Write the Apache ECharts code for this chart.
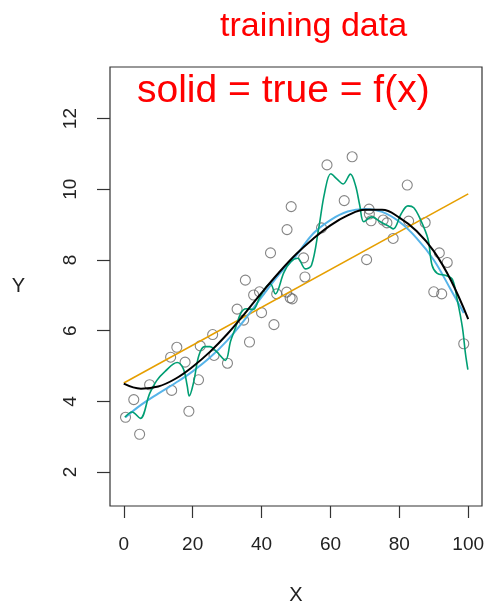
<!DOCTYPE html>
<html>
<head>
<meta charset="utf-8">
<script src="https://cdn.jsdelivr.net/npm/echarts@6/dist/echarts.min.js"></script>
<style>
  html, body { margin: 0; padding: 0; background: #fff; }
  #chart { width: 487px; height: 606px; }
</style>
</head>
<body>
<div id="chart"></div>
<script>
// training data
const obsX = [0.5, 2.9, 4.6, 7.5, 13.6, 13.9, 15.4, 17.8, 18.9, 21.7, 22.2, 25.8, 26.2, 30.1,
  32.9, 34.8, 35.3, 36.5, 37.7, 39.4, 40.0, 42.6, 43.6, 44.4, 47.3, 47.4, 48.3, 48.9, 48.6,
  52.2, 52.6, 57.4, 59.0, 64.0, 66.3, 70.5, 71.2, 71.3, 71.8, 75.3, 76.4, 78.2, 82.3, 82.7,
  87.5, 91.6, 93.9, 90.0, 92.3, 98.7];
const obsY = [3.55, 4.05, 3.07, 4.47, 5.25, 4.31, 5.53, 5.11, 3.72, 4.61, 5.57, 5.89, 5.3, 5.08,
  6.61, 6.3, 7.43, 5.68, 7.01, 7.1, 6.51, 8.2, 6.17, 7.04, 7.09, 8.86, 6.93, 6.9, 9.51,
  8.06, 7.52, 8.91, 10.69, 9.68, 10.92, 8.01, 9.44, 9.3, 9.11, 9.13, 9.05, 8.61, 10.12, 9.1,
  9.06, 8.2, 7.93, 7.1, 7.04, 5.63];

// true f(x), black
const trueX = [0, 5, 10, 15, 20, 25, 30, 35, 40, 45, 50, 55, 60, 65, 70, 75, 80, 85, 90, 95, 100];
const trueY = [4.5, 4.36, 4.42, 4.64, 4.98, 5.4, 5.9, 6.47, 7.07, 7.64, 8.16, 8.6, 8.98, 9.26, 9.42, 9.42, 9.2, 8.82, 8.25, 7.42, 6.33];

// linear fit, orange
const linX = [0, 100];
const linY = [4.52, 9.87];

// smooth spline, blue
const blueX = [0.5, 5, 10, 15, 20, 25, 30, 35, 40, 45, 50, 55, 60, 65, 70, 75, 80, 85, 90, 95, 98.7];
const blueY = [3.55, 3.9, 4.22, 4.52, 4.85, 5.24, 5.72, 6.3, 6.95, 7.58, 8.12, 8.75, 9.13, 9.37, 9.44, 9.36, 9.08, 8.62, 8.0, 7.15, 6.5];

// wiggly spline, green
const greenX = [0.3, 2.4, 4.8, 7.5, 9.5, 12, 15.5, 17.3, 18.4, 19, 20.3, 21.8, 23.5, 25, 27, 29.5,
  31, 32.5, 34, 35.5, 37.5, 39.5, 41.6, 42.6, 44, 46.5, 48.5, 50.5, 52.7, 54.5, 56.6, 58.3,
  60.1, 62, 63.7, 65.8, 67.3, 68.5, 69.7, 72, 74.5, 77, 78.3, 80.5, 82.5, 84.2, 86.1, 88.3,
  89.5, 91, 93.5, 95.4, 96.8, 98.3, 99.2, 99.9];
const greenY = [3.55, 3.7, 3.52, 4.22, 4.58, 4.85, 5.1, 4.92, 4.45, 4.15, 4.55, 5.3, 5.55, 5.55, 5.4, 5.16,
  5.7, 6.1, 6.5, 6.62, 6.6, 6.95, 7.27, 7.32, 7.04, 7.65, 7.95, 8.05, 7.75, 7.85, 8.9, 9.9,
  10.44, 10.28, 10.15, 10.43, 10.1, 9.55, 9.08, 9.22, 9.08, 8.95, 8.88, 9.3, 9.53, 9.48, 9.15, 8.6,
  7.85, 7.62, 7.56, 7.45, 6.88, 6.1, 5.35, 4.9];

const xTicks = [0, 20, 40, 60, 80, 100];
const yTicks = [2, 4, 6, 8, 10, 12];

function pairs(xs, ys) {
  return xs.map((x, i) => [x, ys[i]]);
}

const font = 'Liberation Sans, Arial, sans-serif';
const chart = echarts.init(document.getElementById('chart'));

const option = {
  backgroundColor: '#fff',
  animation: false,
  grid: {
    left: 110, top: 67, width: 372, height: 439,
    outerBoundsMode: 'none', containLabel: false,
    show: true, borderColor: '#333', borderWidth: 1.2, backgroundColor: 'transparent'
  },
  xAxis: {
    type: 'value', min: -4, max: 104,
    name: 'X', nameLocation: 'middle', nameGap: 79,
    nameTextStyle: { fontSize: 20, color: '#222', fontFamily: font },
    axisLine: { show: false, onZero: false },
    splitLine: { show: false },
    axisTick: { show: true, length: 12, customValues: xTicks, lineStyle: { color: '#333', width: 1.2 } },
    axisLabel: { customValues: xTicks, margin: 29, fontSize: 19, color: '#222', fontFamily: font }
  },
  yAxis: {
    type: 'value', min: 1.04, max: 13.46,
    name: 'Y', nameLocation: 'middle', nameGap: 85, nameRotate: 0,
    nameTextStyle: { fontSize: 20, color: '#222', fontFamily: font },
    axisLine: { show: false, onZero: false },
    splitLine: { show: false },
    axisTick: { show: true, length: 13, customValues: yTicks, lineStyle: { color: '#333', width: 1.2 } },
    axisLabel: { customValues: yTicks, rotate: 90, margin: 30, fontSize: 19, color: '#222', fontFamily: font, align: 'center', verticalAlign: 'bottom' }
  },
  series: [
    {
      type: 'scatter', data: pairs(obsX, obsY), symbol: 'circle', symbolSize: 10,
      itemStyle: { color: 'rgba(0,0,0,0)', borderColor: '#666', borderWidth: 1.1 }
    },
    {
      type: 'line', data: pairs(linX, linY), showSymbol: false,
      lineStyle: { color: '#E69F00', width: 1.6 }
    },
    {
      type: 'line', data: pairs(blueX, blueY), showSymbol: false, smooth: 0.4,
      lineStyle: { color: '#56B4E9', width: 2 }
    },
    {
      type: 'line', data: pairs(greenX, greenY), showSymbol: false, smooth: 0.35,
      lineStyle: { color: '#009E73', width: 1.6 }
    },
    {
      type: 'line', data: pairs(trueX, trueY), showSymbol: false, smooth: 0.4,
      lineStyle: { color: '#000', width: 2 }
    }
  ],
  graphic: [
    {
      type: 'text', left: 220, top: 10,
      style: { text: 'training data', fill: '#ff0000', font: '34px ' + font }
    },
    {
      type: 'text', left: 137, top: 72,
      style: { text: 'solid = true = f(x)', fill: '#ff0000', font: '39px ' + font }
    }
  ]
};

chart.setOption(option);
</script>
</body>
</html>
